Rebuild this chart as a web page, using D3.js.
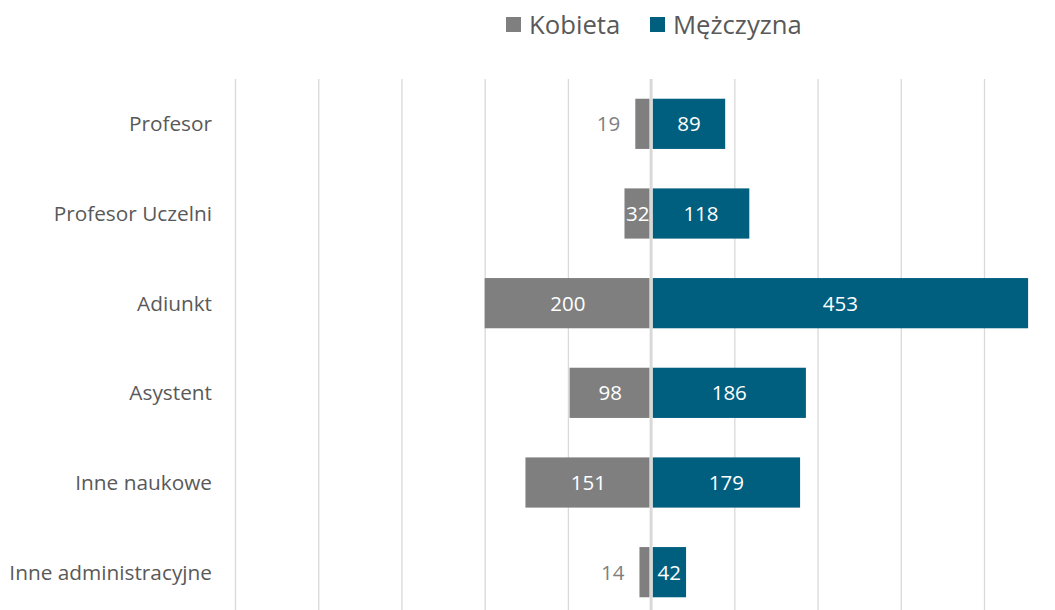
<!DOCTYPE html>
<html>
<head>
<meta charset="utf-8">
<script src="https://cdn.jsdelivr.net/npm/d3@7"></script>
<style>
  body { margin: 0; background: #fff; }
  text { font-family: "Open Sans", "Liberation Sans", sans-serif; }
</style>
</head>
<body>
<svg id="chart" width="1055" height="610"></svg>
<script>
const categories = ["Profesor", "Profesor Uczelni", "Adiunkt", "Asystent", "Inne naukowe", "Inne administracyjne"]
const kobieta = [19, 32, 200, 98, 151, 14]
const mezczyzna = [89, 118, 453, 186, 179, 42]
const seriesNames = ["Kobieta", "Mężczyzna"]
const gridTicks = [-500, -400, -300, -200, -100, 100, 200, 300, 400]

const grey = "#7f7f7f", teal = "#005f7f"
const svg = d3.select("#chart")

const x = d3.scaleLinear().domain([-500, 400]).range([235, 984])
const y = d3.scaleBand().domain(categories).range([79, 617]).paddingInner(0.44).paddingOuter(0.22)

// gridlines
svg.append("g").selectAll("line")
    .data(gridTicks)
    .enter().append("line")
    .attr("x1", d => x(d) + 0.5).attr("x2", d => x(d) + 0.5)
    .attr("y1", 79).attr("y2", 617)
    .attr("stroke", "#d9d9d9").attr("stroke-width", 1.3)

const rows = categories.map((c, i) => ({ cat: c, k: kobieta[i], m: mezczyzna[i] }))

// bars
svg.append("g").selectAll("rect")
    .data(rows)
    .enter().append("rect")
    .attr("x", d => x(-d.k))
    .attr("y", d => y(d.cat))
    .attr("width", d => x(0) - x(-d.k) - 1.5)
    .attr("height", y.bandwidth())
    .attr("fill", grey)

svg.append("g").selectAll("rect")
    .data(rows)
    .enter().append("rect")
    .attr("x", x(0) + 1.5)
    .attr("y", d => y(d.cat))
    .attr("width", d => x(d.m) - x(0) - 1.5)
    .attr("height", y.bandwidth())
    .attr("fill", teal)

// centre axis
svg.append("line")
    .attr("x1", x(0)).attr("x2", x(0))
    .attr("y1", 79).attr("y2", 617)
    .attr("stroke", "#d9d9d9").attr("stroke-width", 3)

// labels on bars
const fits = w => w >= 24
svg.append("g").selectAll("text")
    .data(rows)
    .enter().append("text")
    .attr("x", d => {
        let w = x(0) - x(-d.k)
        return fits(w) ? (x(-d.k) + x(0)) / 2 : x(-d.k) - 15
    })
    .attr("y", d => y(d.cat) + y.bandwidth() / 2)
    .attr("dy", "0.36em")
    .attr("text-anchor", d => fits(x(0) - x(-d.k)) ? "middle" : "end")
    .attr("font-size", 20.5)
    .attr("fill", d => fits(x(0) - x(-d.k)) ? "#fff" : "#7f7f7f")
    .text(d => d.k)

svg.append("g").selectAll("text")
    .data(rows)
    .enter().append("text")
    .attr("x", d => (x(0) + 1.5 + x(d.m)) / 2)
    .attr("y", d => y(d.cat) + y.bandwidth() / 2)
    .attr("dy", "0.36em")
    .attr("text-anchor", "middle")
    .attr("font-size", 20.5)
    .attr("fill", "#fff")
    .text(d => d.m)

// category labels
svg.append("g").selectAll("text")
    .data(categories)
    .enter().append("text")
    .attr("x", 212)
    .attr("y", d => y(d) + y.bandwidth() / 2)
    .attr("dy", "0.36em")
    .attr("text-anchor", "end")
    .attr("font-size", 20.8)
    .attr("fill", "#595959")
    .text(d => d)

// legend
const legend = svg.append("g")
const legendX = [506, 650]
seriesNames.forEach((s, i) => {
    legend.append("rect")
        .attr("x", legendX[i]).attr("y", 17)
        .attr("width", 15).attr("height", 15)
        .attr("fill", i === 0 ? grey : teal)
    legend.append("text")
        .attr("x", legendX[i] + 23).attr("y", 25)
        .attr("dy", "0.36em")
        .attr("font-size", 25.7)
        .attr("fill", "#595959")
        .text(s)
})
</script>
</body>
</html>
